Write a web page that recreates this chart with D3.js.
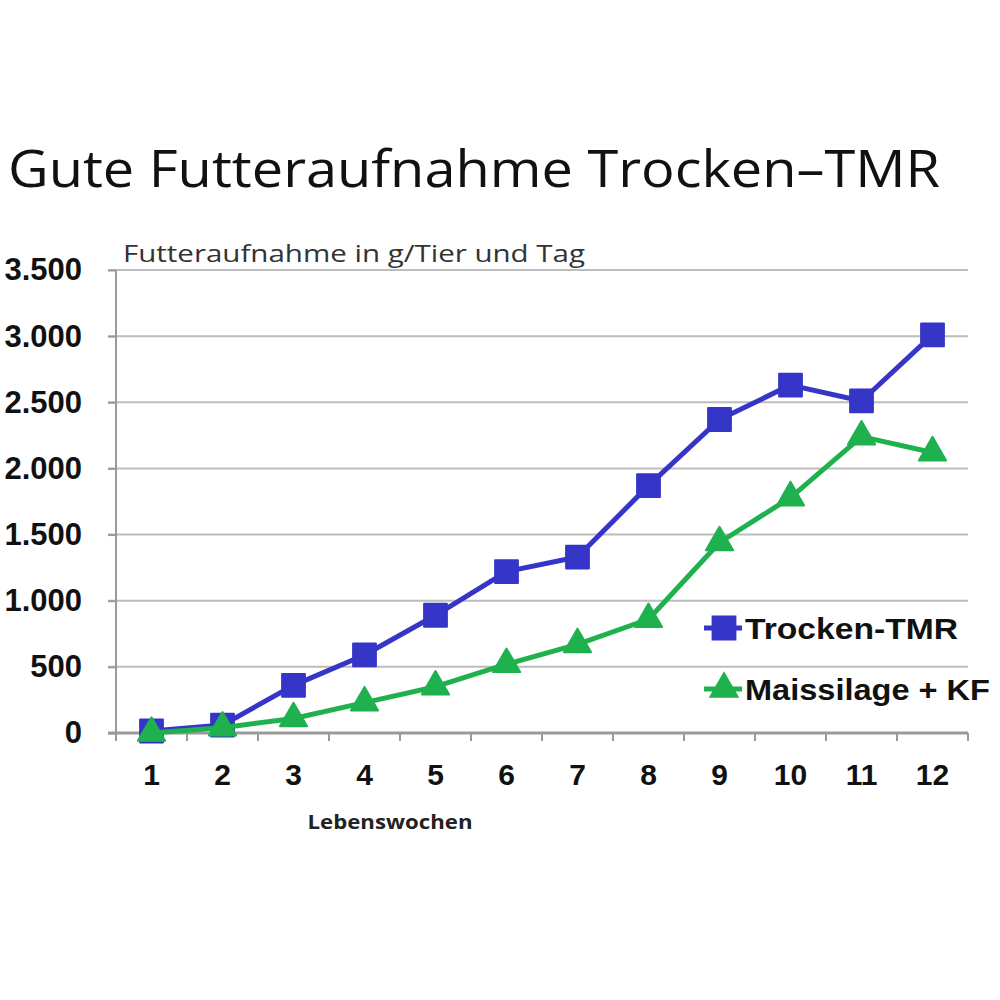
<!DOCTYPE html>
<html>
<head>
  <meta charset="utf-8">
  <title>Gute Futteraufnahme Trocken-TMR</title>
  <script src="https://d3js.org/d3.v7.min.js"></script>
  <style>
    body { margin: 0; background: #fff; }
    svg { display: block; }
  </style>
</head>
<body>
  <div id="chart"></div>
  <script>
    // Data
    var weeks = ["1", "2", "3", "4", "5", "6", "7", "8", "9", "10", "11", "12"];
    var trockenTMR = [15, 60, 360, 590, 890, 1220, 1330, 1870, 2370, 2630, 2510, 3010];
    var maissilageKF = [0, 40, 110, 230, 350, 520, 670, 860, 1440, 1780, 2240, 2120];
    var yTicks = [0, 500, 1000, 1500, 2000, 2500, 3000, 3500];
    var seriesNames = ["Trocken-TMR", "Maissilage + KF"];

    var blue = "#3535c8";
    var green = "#1fb14e";

    var svg = d3.select("#chart")
      .append("svg")
      .attr("width", 1000)
      .attr("height", 1000);

    var margin = {top: 270, right: 32, bottom: 267, left: 116};
    var width = 1000 - margin.left - margin.right;
    var height = 1000 - margin.top - margin.bottom;

    // Title
    svg.append("text")
      .attr("x", 8)
      .attr("y", 187)
      .attr("textLength", 932)
      .attr("lengthAdjust", "spacingAndGlyphs")
      .style("font-family", "'Open Sans', sans-serif")
      .style("font-size", "52px")
      .style("fill", "#111")
      .text("Gute Futteraufnahme Trocken\u2013TMR");

    // subtitle (unit)
    svg.append("text")
      .attr("x", 123)
      .attr("y", 262)
      .attr("textLength", 462)
      .attr("lengthAdjust", "spacingAndGlyphs")
      .style("font-family", "'Open Sans', sans-serif")
      .style("font-size", "23px")
      .style("fill", "#333")
      .text("Futteraufnahme in g/Tier und Tag");

    var x = d3.scaleBand()
      .domain(weeks)
      .range([0, width]);

    var y = d3.scaleLinear()
      .domain([0, 3500])
      .range([height, 0]);

    var g = svg.append("g")
      .attr("transform", "translate(" + margin.left + "," + margin.top + ")");

    // horizontal gridlines
    g.selectAll(".grid")
      .data(yTicks.filter(function(d) { return d > 0; }))
      .enter()
      .append("line")
      .attr("class", "grid")
      .attr("x1", -8)
      .attr("x2", width)
      .attr("y1", function(d) { return y(d); })
      .attr("y2", function(d) { return y(d); })
      .style("stroke", "#bdbdbd")
      .style("stroke-width", 2);

    // y axis
    var yAxis = g.append("g")
      .call(d3.axisLeft(y).tickValues(yTicks).tickSize(8).tickPadding(26)
        .tickFormat(function(d) { return d3.format(",")(d).replace(",", "."); }));
    yAxis.select(".domain").style("stroke", "#9a9a9a").style("stroke-width", 2)
      .attr("d", "M0," + (height + 8) + "V0");
    yAxis.selectAll(".tick line").style("stroke", "#9a9a9a").style("stroke-width", 2);
    yAxis.selectAll("text")
      .style("font-family", "'Liberation Sans', Arial, sans-serif")
      .style("font-weight", "bold")
      .style("font-size", "31px")
      .style("fill", "#111");

    // x axis with ticks between categories
    var xAxis = g.append("g")
      .attr("transform", "translate(0," + height + ")")
      .call(d3.axisBottom(x).tickSize(0).tickPadding(31));
    xAxis.select(".domain").style("stroke", "#9a9a9a").style("stroke-width", 3)
      .attr("d", "M-8,0H" + width);
    xAxis.selectAll("text")
      .style("font-family", "'Liberation Sans', Arial, sans-serif")
      .style("font-weight", "bold")
      .style("font-size", "30px")
      .style("fill", "#111");
    xAxis.selectAll(".sep")
      .data(weeks.concat(["end"]))
      .enter()
      .append("line")
      .attr("class", "sep")
      .attr("x1", function(d, i) { return i * x.step(); })
      .attr("x2", function(d, i) { return i * x.step(); })
      .attr("y1", 0)
      .attr("y2", 8)
      .style("stroke", "#9a9a9a")
      .style("stroke-width", 2);

    // x axis label
    svg.append("text")
      .attr("x", 390)
      .attr("y", 829)
      .attr("text-anchor", "middle")
      .attr("textLength", 165)
      .attr("lengthAdjust", "spacingAndGlyphs")
      .style("font-family", "'Open Sans', sans-serif")
      .style("font-weight", "bold")
      .style("font-size", "20px")
      .style("fill", "#222")
      .text("Lebenswochen");

    var line = d3.line()
      .x(function(d, i) { return x(weeks[i]) + x.bandwidth() / 2; })
      .y(function(d) { return y(d); });

    var square = d3.symbol().type(d3.symbolSquare).size(520);
    var triangle = d3.symbol().type(d3.symbolTriangle).size(320);

    // Trocken-TMR line
    g.append("path")
      .datum(trockenTMR)
      .attr("d", line)
      .attr("fill", "none")
      .style("stroke", blue)
      .style("stroke-width", 5)
      .style("stroke-linejoin", "round");

    g.selectAll(".pt-tmr")
      .data(trockenTMR)
      .enter()
      .append("path")
      .attr("class", "pt-tmr")
      .attr("d", square)
      .attr("transform", function(d, i) {
        return "translate(" + (x(weeks[i]) + x.bandwidth() / 2) + "," + y(d) + ")";
      })
      .style("fill", blue)
      .style("stroke", blue)
      .style("stroke-width", 2)
      .style("stroke-linejoin", "round");

    // Maissilage + KF line
    g.append("path")
      .datum(maissilageKF)
      .attr("d", line)
      .attr("fill", "none")
      .style("stroke", green)
      .style("stroke-width", 5)
      .style("stroke-linejoin", "round");

    g.selectAll(".pt-mais")
      .data(maissilageKF)
      .enter()
      .append("path")
      .attr("class", "pt-mais")
      .attr("d", triangle)
      .attr("transform", function(d, i) {
        return "translate(" + (x(weeks[i]) + x.bandwidth() / 2) + "," + y(d) + ")";
      })
      .style("fill", green)
      .style("stroke", green)
      .style("stroke-width", 2)
      .style("stroke-linejoin", "round");

    // Legend
    var legend = svg.append("g").attr("transform", "translate(704,628)");
    var items = [
      {name: seriesNames[0], color: blue, shape: square, len: 213},
      {name: seriesNames[1], color: green, shape: triangle, len: 245}
    ];
    items.forEach(function(it, i) {
      var row = legend.append("g").attr("transform", "translate(0," + (i * 61) + ")");
      row.append("line")
        .attr("x1", 0).attr("x2", 38)
        .style("stroke", it.color)
        .style("stroke-width", 5);
      row.append("path")
        .attr("d", it.shape)
        .attr("transform", "translate(20,0)")
        .style("fill", it.color)
        .style("stroke", it.color)
        .style("stroke-width", 2);
      row.append("text")
        .attr("x", 41)
        .attr("y", 11)
        .attr("textLength", it.len)
        .attr("lengthAdjust", "spacingAndGlyphs")
        .style("font-family", "'Liberation Sans', Arial, sans-serif")
        .style("font-weight", "bold")
        .style("font-size", "29px")
        .style("fill", "#111")
        .text(it.name);
    });
  </script>
</body>
</html>
